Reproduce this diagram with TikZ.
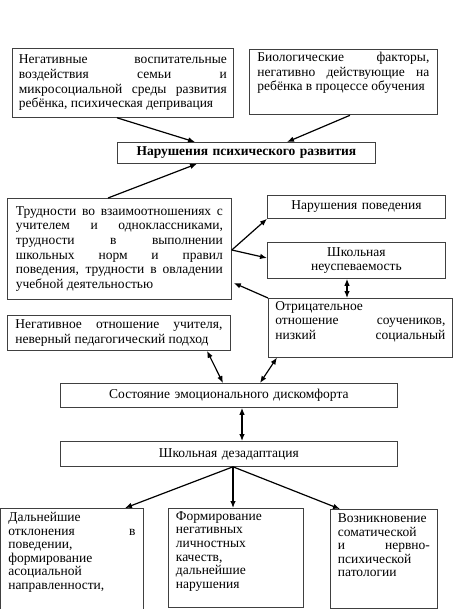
\documentclass[tikz,border=0pt]{standalone}
\usepackage{fontspec}
\setmainfont{Liberation Serif}
\usepackage{tikz}
\usetikzlibrary{arrows.meta, calc}

\newcommand{\bpad}[1]{\par\kern#1\hrule height 0pt}

\begin{document}
\begin{tikzpicture}[x=1pt, y=-1pt,
  >={Latex[length=7pt, width=5.5pt]},
  box/.style={draw=black!75, line width=0.8pt, anchor=north west,
    inner xsep=0pt, inner ysep=3pt, align=justify,
    font=\fontsize{13.5}{14.6}\selectfont},
  cbox/.style={box, align=center},
  lowbox/.style={box, font=\fontsize{13.5}{13.6}\selectfont},
  arr/.style={->, line width=1.2pt},
  darr/.style={<->, line width=1.2pt},
]
\useasboundingbox (0,0) rectangle (453,609);

% Causes
\node[box, minimum width=221pt, minimum height=69pt, text width=208pt] (family) at (12,48)
  {Негативные воспитательные\linebreak воздействия семьи и\linebreak микросоциальной среды развития\linebreak ребёнка, психическая депривация};
\node[box, minimum width=188pt, minimum height=65pt, text width=172pt] (biology) at (249,49)
  {Биологические факторы,\linebreak негативно действующие на\linebreak ребёнка в процессе обучения\bpad{18pt}};

% Central
\node[cbox, minimum width=258pt, minimum height=21pt, text width=250pt,
  font=\fontsize{13.5}{14.6}\selectfont\bfseries] (devel) at (117,142) {Нарушения психического развития};

% Middle level
\node[box, minimum width=224pt, minimum height=101pt, text width=207pt] (relations) at (7,198)
  {Трудности во взаимоотношениях с\linebreak учителем и одноклассниками,\linebreak трудности в выполнении\linebreak школьных норм и правил\linebreak поведения, трудности в овладении\linebreak учебной деятельностью};
\node[cbox, minimum width=178pt, minimum height=23pt, text width=170pt] (behav) at (267,195) {Нарушения поведения};
\node[cbox, minimum width=178pt, minimum height=36pt, text width=170pt] (failure) at (267,242) {Школьная\\неуспеваемость};
\node[box, minimum width=184pt, minimum height=56pt, text width=170pt] (peers) at (268,298)
  {Отрицательное\newline отношение соучеников,\linebreak низкий социальный\linebreak};
\node[box, minimum width=223pt, minimum height=35pt, text width=207pt] (teacher) at (7,315)
  {Негативное отношение учителя,\linebreak неверный педагогический подход};

% States
\node[cbox, minimum width=337pt, minimum height=24pt, text width=320pt] (discomfort) at (60,383) {Состояние эмоционального дискомфорта};
\node[cbox, minimum width=337pt, minimum height=25pt, text width=320pt] (maladapt) at (60,441) {Школьная дезадаптация};

% Consequences
\node[lowbox, minimum width=143pt, minimum height=106pt, text width=127pt] (deviance) at (0,508)
  {Дальнейшие\newline отклонения в\linebreak поведении,\newline формирование\newline асоциальной\newline направленности,\bpad{18pt}};
\node[lowbox, minimum width=135pt, minimum height=99pt, text width=120pt] (traits) at (168,508)
  {Формирование\newline негативных\newline личностных\newline качеств,\newline дальнейшие\newline нарушения\bpad{13pt}};
\node[lowbox, minimum width=107pt, minimum height=99pt, text width=92pt] (somatic) at (330,509)
  {Возникновение\newline соматической\newline и нервно-\linebreak психической\newline патологии\bpad{27pt}};

% Arrows
\draw[arr] ($(family.south west)+(105,0)$) -- ($(devel.north west)+(78,0)$);
\draw[arr] ($(biology.south west)+(101,0)$) -- ($(devel.north west)+(170,0)$);
\draw[arr] ($(relations.north west)+(101,0)$) -- ($(devel.south west)+(80,0)$);

\draw[arr] ($(relations.north east)+(0,52)$) -- (behav.south west);
\draw[arr] ($(relations.north east)+(0,52)$) -- ($(failure.north west)+(0,16)$);
\draw[darr] ($(failure.south west)+(80,0)$) -- ($(peers.north west)+(79,0)$);
\draw[arr] (peers.north west) -- ($(relations.north east)+(2,85)$);

\draw[darr] ($(teacher.south west)+(200,0)$) -- ($(discomfort.north west)+(163,0)$);
\draw[darr] ($(peers.south west)+(9,0)$) -- ($(discomfort.north west)+(200,0)$);
\draw[darr] ($(discomfort.south west)+(182,0)$) -- ($(maladapt.north west)+(182,0)$);

\draw[arr] ($(maladapt.south west)+(173,0)$) -- ($(deviance.north west)+(125,0)$);
\draw[arr] ($(maladapt.south west)+(173,0)$) -- ($(traits.north west)+(65,0)$);
\draw[arr] ($(maladapt.south west)+(173,0)$) -- ($(somatic.north west)+(10,0)$);

\end{tikzpicture}
\end{document}
